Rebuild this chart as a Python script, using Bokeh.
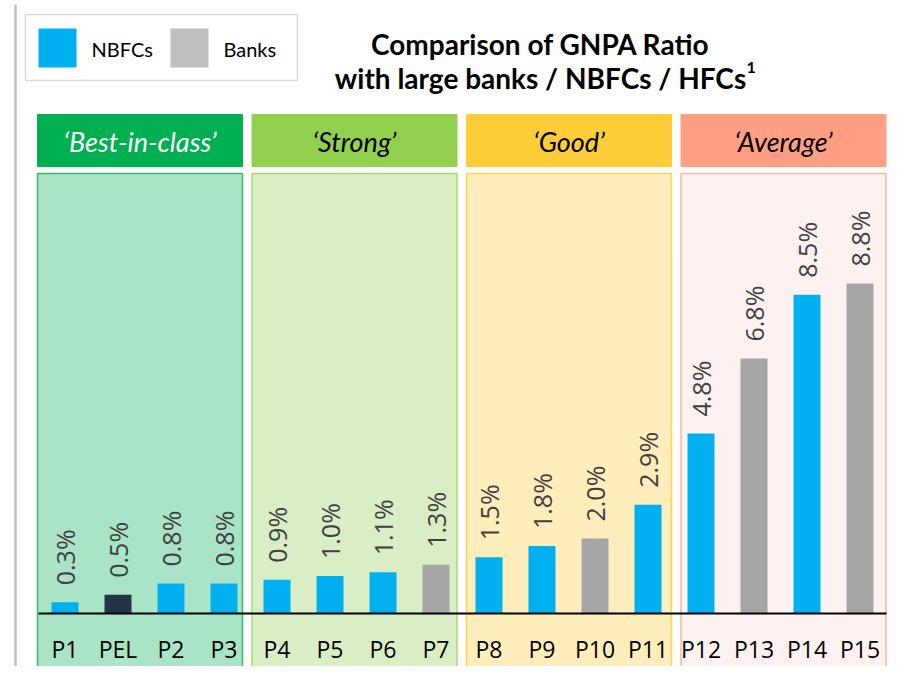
import math
from bokeh.plotting import figure
from bokeh.models import Range1d
from bokeh.core.properties import value
from bokeh.embed import file_html
from bokeh.resources import INLINE

# ---------------- data ----------------
categories = ["P1", "PEL", "P2", "P3", "P4", "P5", "P6", "P7",
              "P8", "P9", "P10", "P11", "P12", "P13", "P14", "P15"]
gnpa = [0.3, 0.5, 0.8, 0.8, 0.9, 1.0, 1.1, 1.3,
        1.5, 1.8, 2.0, 2.9, 4.8, 6.8, 8.5, 8.8]
kind = ["NBFC", "PEL", "NBFC", "NBFC", "NBFC", "NBFC", "NBFC", "Bank",
        "NBFC", "NBFC", "Bank", "NBFC", "NBFC", "Bank", "NBFC", "Bank"]
groups = ["\u2018Best-in-class\u2019", "\u2018Strong\u2019", "\u2018Good\u2019", "\u2018Average\u2019"]
legend_items = ["NBFCs", "Banks"]
title_lines = ["Comparison of GNPA Ratio", "with large banks / NBFCs / HFCs"]

# ---------------- styles ----------------
kind_color = {"NBFC": "#00B0F0", "Bank": "#A6A6A6", "PEL": "#243447"}
head_fill = ["#00B050", "#92D050", "#FFCD38", "#FF9E82"]
head_text = ["white", "black", "black", "black"]
panel_fill = ["#A8E4C5", "#D9EEC4", "#FFEDBB", "#FDF2EF"]
panel_line = ["#33BB6B", "#A5DB72", "#FFD34E", "#FBB6A3"]

FW, FH = 890, 666
PXX, PXY = 53.0, 37.5          # pixels per category step / per percent
x_start = -64.5 / PXX
x_end = x_start + FW / PXX
y_start = -(FH - 613) / PXY
y_end = y_start + FH / PXY


def X(px):  # canvas pixel -> data x
    return x_start + px / PXX


def Y(py):  # canvas pixel -> data y
    return y_end - py / PXY


p = figure(width=FW, height=FH, x_range=Range1d(x_start, x_end),
           y_range=Range1d(y_start, y_end), output_backend="svg",
           toolbar_location=None, min_border=0,
           x_axis_location=None, y_axis_location=None)
p.grid.visible = False
p.outline_line_color = None
p.background_fill_color = "white"
p.border_fill_color = "white"

# slide frame (left edge)
p.segment(x0=[X(15)], y0=[Y(4)], x1=[X(15)], y1=[Y(700)], line_color="#BFBFBF", line_width=2.5)

# panels and headers
lefts = [X(37 + k * 214.5) for k in range(4)]
rights = [X(37 + k * 214.5 + 205) for k in range(4)]
p.quad(left=lefts, right=rights, top=[Y(173)] * 4, bottom=[Y(672)] * 4,
       fill_color=panel_fill, line_color=panel_line, line_width=1.5)
p.quad(left=lefts, right=rights, top=[Y(114)] * 4, bottom=[Y(166)] * 4,
       fill_color=head_fill, line_color=head_fill, line_width=1)
p.text(x=[(l + r) / 2 for l, r in zip(lefts, rights)], y=[Y(141)] * 4, text=groups,
       text_color=head_text, text_font=value("Lato"), text_font_style="italic",
       text_font_size="27px", text_align="center", text_baseline="middle")

# bars
idx = list(range(len(categories)))
p.vbar(x=idx, top=gnpa, bottom=0, width=27 / PXX,
       fill_color=[kind_color[k] for k in kind], line_color=None)

# baseline
p.segment(x0=[-0.5], y0=[0], x1=[15.5], y1=[0], line_color="black", line_width=2)

# value labels
p.text(x=idx, y=gnpa, text=[f"{v:.1f}%" for v in gnpa], angle=math.pi / 2,
       text_align="left", text_baseline="middle", y_offset=-17,
       text_font=value("Open Sans"), text_font_size="25px", text_color="#404040")

# category labels
p.text(x=idx, y=[Y(648)] * len(idx), text=categories, text_align="center",
       text_baseline="middle", text_font=value("Open Sans"), text_font_size="23px",
       text_color="black")

# legend
p.quad(left=[X(25)], right=[X(297)], top=[Y(14)], bottom=[Y(80)],
       fill_color="white", line_color="#D9D9D9", line_width=1.5)
p.quad(left=[X(38), X(170)], right=[X(76), X(208)], top=[Y(28)] * 2, bottom=[Y(67)] * 2,
       fill_color=[kind_color["NBFC"], "#BFBFBF"], line_color=None)
p.text(x=[X(91), X(223)], y=[Y(48)] * 2, text=legend_items, text_align="left",
       text_baseline="middle", text_font=value("Lato"), text_font_size="20px",
       text_color="black")

# title
p.text(x=[X(540)] * 2, y=[Y(43), Y(77)], text=title_lines, text_align="center",
       text_baseline="middle", text_font=value("Lato"), text_font_style="bold",
       text_font_size="28px", text_color="black")
p.text(x=[X(746)], y=[Y(67)], text=["1"], text_align="left", text_baseline="middle",
       text_font=value("Lato"), text_font_style="bold", text_font_size="16px",
       text_color="black")

open("out.html", "w").write(file_html(p, INLINE))
